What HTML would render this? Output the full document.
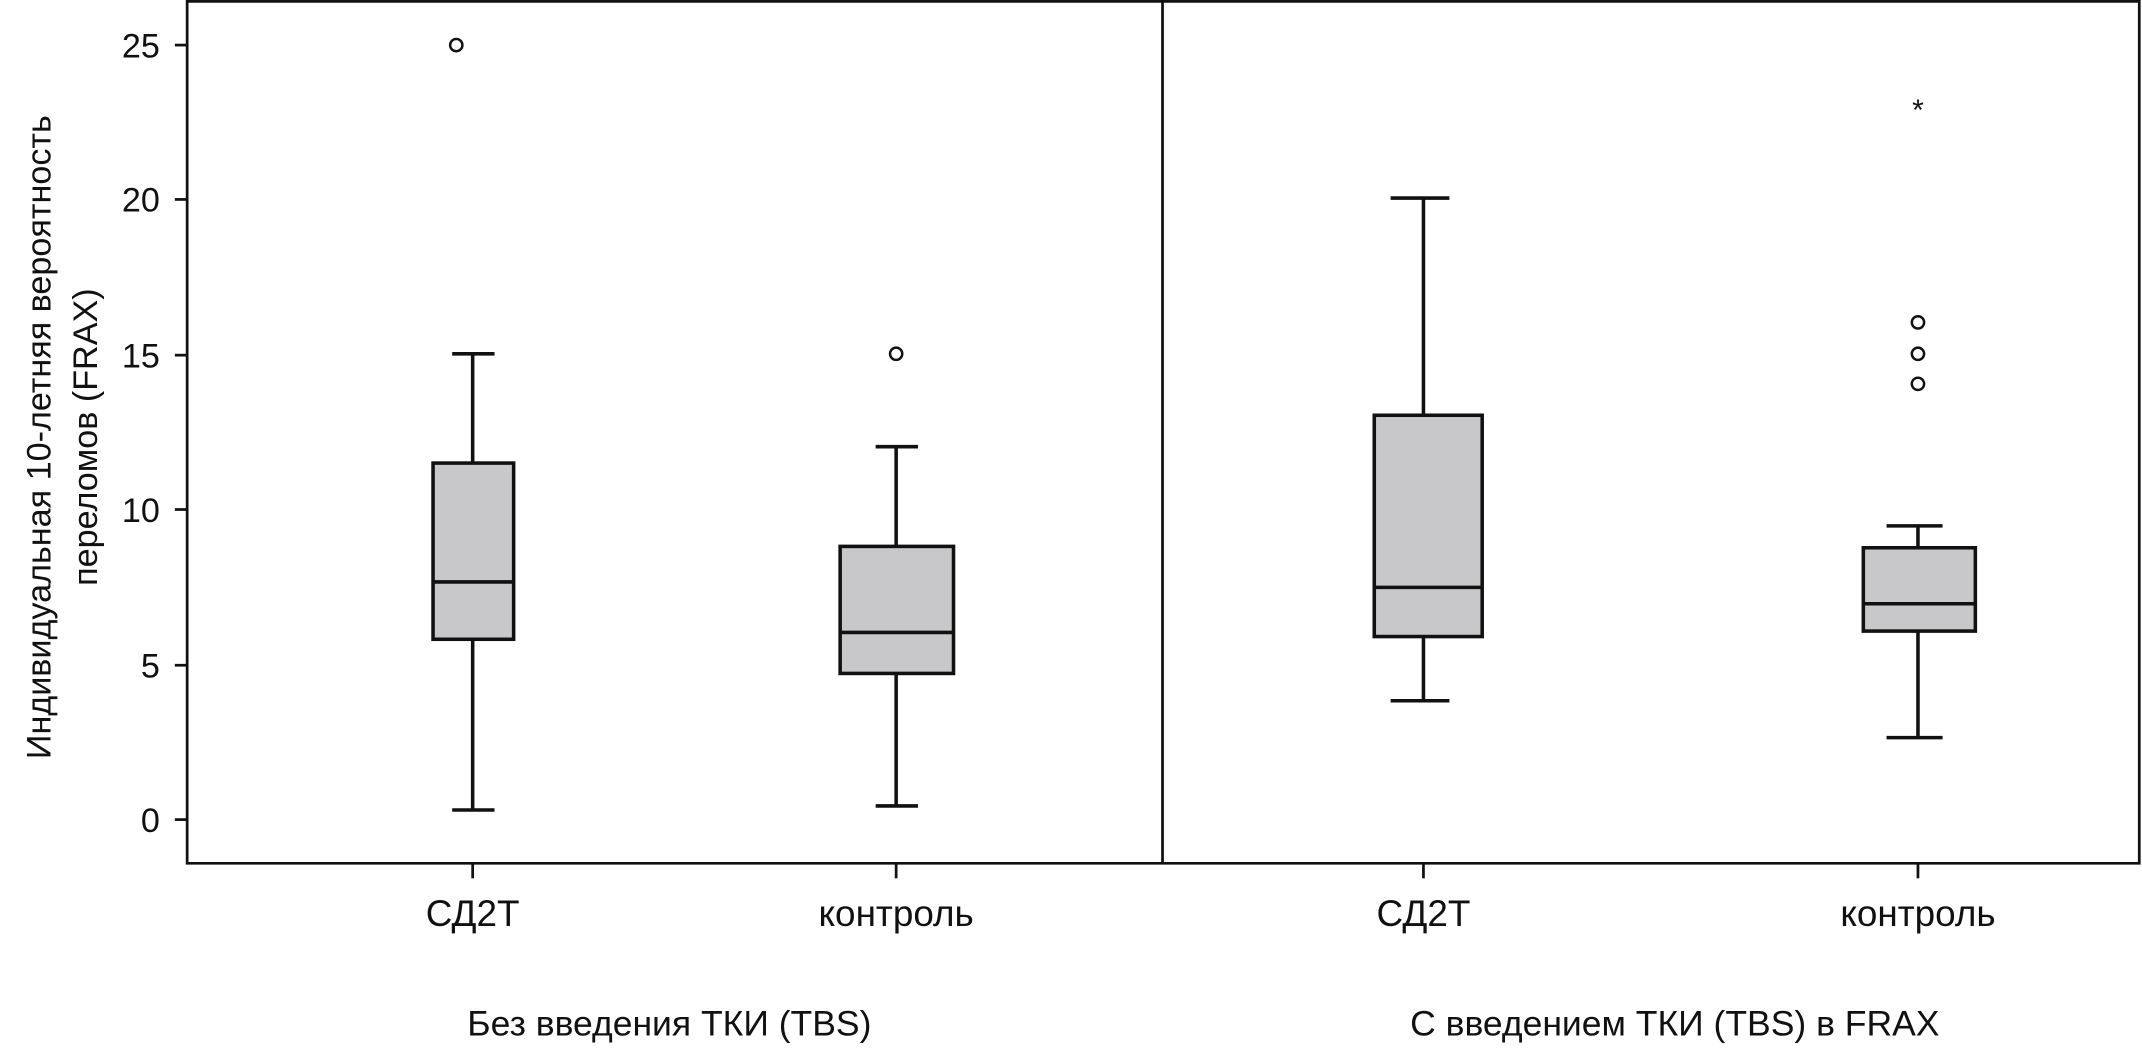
<!DOCTYPE html>
<html><head><meta charset="utf-8"><style>
html,body{margin:0;padding:0;background:#fff;}
svg{display:block;}
text{font-family:"Liberation Sans","DejaVu Sans",sans-serif;fill:#111;}
</style></head><body>
<svg width="2142" height="1054" viewBox="0 0 1568 771.6" preserveAspectRatio="none" xmlns="http://www.w3.org/2000/svg">
<g stroke="#111" stroke-width="2" fill="none">
<polyline points="137,0 137,632 1566,632 1566,0"/>
<line x1="137" y1="1" x2="1566" y2="1"/>
<line x1="851" y1="0" x2="851" y2="632"/>
<line x1="128" y1="33" x2="137" y2="33"/>
<line x1="128" y1="146" x2="137" y2="146"/>
<line x1="128" y1="260" x2="137" y2="260"/>
<line x1="128" y1="373" x2="137" y2="373"/>
<line x1="128" y1="487" x2="137" y2="487"/>
<line x1="128" y1="600" x2="137" y2="600"/>
<line x1="346" y1="632" x2="346" y2="643"/>
<line x1="656" y1="632" x2="656" y2="643"/>
<line x1="1042" y1="632" x2="1042" y2="643"/>
<line x1="1404" y1="632" x2="1404" y2="643"/>
</g>
<g stroke="#111" stroke-width="2.6" fill="#c8c8ca">
<line x1="346" y1="259" x2="346" y2="339"/><line x1="346" y1="468" x2="346" y2="593"/>
<line x1="331" y1="259" x2="362" y2="259"/><line x1="331" y1="593" x2="362" y2="593"/>
<rect x="317" y="339" width="59" height="129"/><line x1="317" y1="426" x2="376" y2="426"/>
<line x1="656" y1="327" x2="656" y2="400"/><line x1="656" y1="493" x2="656" y2="590"/>
<line x1="641" y1="327" x2="672" y2="327"/><line x1="641" y1="590" x2="672" y2="590"/>
<rect x="615" y="400" width="83" height="93"/><line x1="615" y1="463" x2="698" y2="463"/>
<line x1="1042" y1="145" x2="1042" y2="304"/><line x1="1042" y1="466" x2="1042" y2="513"/>
<line x1="1018" y1="145" x2="1061" y2="145"/><line x1="1018" y1="513" x2="1061" y2="513"/>
<rect x="1006" y="304" width="79" height="162"/><line x1="1006" y1="430" x2="1085" y2="430"/>
<line x1="1404" y1="385" x2="1404" y2="401"/><line x1="1404" y1="462" x2="1404" y2="540"/>
<line x1="1381" y1="385" x2="1422" y2="385"/><line x1="1381" y1="540" x2="1422" y2="540"/>
<rect x="1364" y="401" width="82" height="61"/><line x1="1364" y1="442" x2="1446" y2="442"/>
</g>
<g stroke="#111" stroke-width="1.8" fill="none">
<circle cx="334" cy="33" r="4.5"/>
<circle cx="656" cy="259" r="4.5"/>
<circle cx="1404" cy="236" r="4.5"/>
<circle cx="1404" cy="259" r="4.5"/>
<circle cx="1404" cy="281" r="4.5"/>
</g>
<text x="1404" y="88" font-size="22" text-anchor="middle">*</text>
<g font-size="25" text-anchor="end">
<text x="117" y="42">25</text><text x="117" y="155">20</text><text x="117" y="269">15</text>
<text x="117" y="382">10</text><text x="117" y="496">5</text><text x="117" y="609">0</text>
</g>
<g font-size="27" text-anchor="middle">
<text x="346" y="678">СД2Т</text><text x="656" y="678">контроль</text>
<text x="1042" y="678">СД2Т</text><text x="1404" y="678">контроль</text>
<text x="490" y="758" font-size="26">Без введения ТКИ (TBS)</text>
<text x="1226" y="758" font-size="26">С введением ТКИ (TBS) в FRAX</text>
</g>
<g font-size="25" text-anchor="middle">
<text transform="translate(37,320) rotate(-90)">Индивидуальная 10-летняя вероятность</text>
<text transform="translate(71,320) rotate(-90)">переломов (FRAX)</text>
</g>
</svg>
</body></html>
